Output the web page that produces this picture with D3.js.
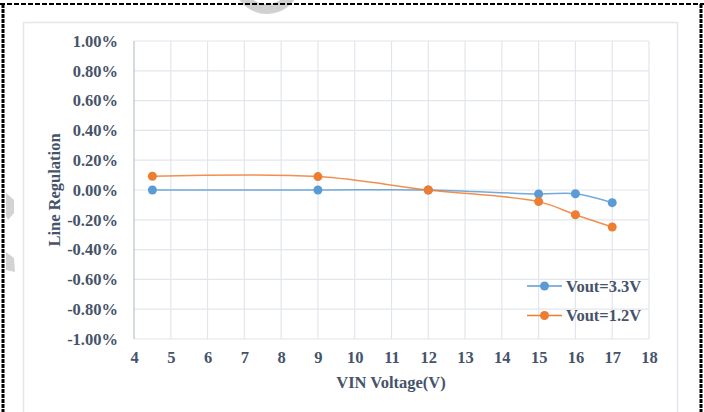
<!DOCTYPE html>
<html>
<head>
<meta charset="utf-8">
<script src="https://cdn.jsdelivr.net/npm/d3@7"></script>
<style>
  body { margin: 0; background: #fff; }
  svg { display: block; }
  text { font-family: "Liberation Serif", "Times New Roman", serif; font-weight: bold; fill: #46536a; }
</style>
</head>
<body>
<svg id="chart" width="704" height="412"></svg>
<script>
// values (percent)
var vin = [4.5, 9, 12, 15, 16, 17];
var vout33 = [0.0, 0.0, 0.0, -0.027, -0.025, -0.085];
var vout12 = [0.092, 0.09, 0.0, -0.078, -0.166, -0.248];
var xTicks = [4, 5, 6, 7, 8, 9, 10, 11, 12, 13, 14, 15, 16, 17, 18];
var yTicks = [-1.0, -0.8, -0.6, -0.4, -0.2, 0.0, 0.2, 0.4, 0.6, 0.8, 1.0];
var seriesNames = ["Vout=3.3V", "Vout=1.2V"];
var seriesColors = ["#5b9bd5", "#ed7d31"];

var svg = d3.select("#chart");

// page decoration: watermark bits and dashed frame
svg.append("path")
  .attr("d", d3.arc()({innerRadius: 24, outerRadius: 34, startAngle: Math.PI * 0.6, endAngle: Math.PI * 1.4}))
  .attr("transform", "translate(267,-20)")
  .attr("fill", "#d0d0d0");
svg.append("path")
  .attr("d", "M6,193 L14,200 L14,213 L8,220 L6,216 Z M6,252 L14,258 L15,272 L6,270 Z")
  .attr("fill", "#d3d3d3");

svg.append("line").attr("x1", 0).attr("x2", 704).attr("y1", 4).attr("y2", 4)
  .attr("stroke", "#000").attr("stroke-width", 2).attr("stroke-dasharray", "5,2");
svg.append("line").attr("x1", 3).attr("x2", 3).attr("y1", 4).attr("y2", 412)
  .attr("stroke", "#000").attr("stroke-width", 3).attr("stroke-dasharray", "4,1");
svg.append("line").attr("x1", 701).attr("x2", 701).attr("y1", 4).attr("y2", 412)
  .attr("stroke", "#000").attr("stroke-width", 3).attr("stroke-dasharray", "4,1");

// chart area box
svg.append("rect").attr("x", 23.5).attr("y", 22.5).attr("width", 654).attr("height", 400)
  .attr("fill", "#fff").attr("stroke", "#e3e6ea").attr("stroke-width", 1.5);

var plotL = 134, plotR = 649, plotT = 41, plotB = 339;

var x = d3.scaleLinear().domain([4, 18]).range([plotL, plotR]);
var y = d3.scaleLinear().domain([-1, 1]).range([plotB, plotT]);

// grid
var grid = svg.append("g");
grid.selectAll(".vg").data(xTicks.slice(1)).enter().append("line")
  .attr("x1", function(d) { return x(d); }).attr("x2", function(d) { return x(d); })
  .attr("y1", plotT).attr("y2", plotB)
  .attr("stroke", "#e2e6ec").attr("stroke-width", 1.2);
grid.selectAll(".hg").data(yTicks).enter().append("line")
  .attr("x1", plotL).attr("x2", plotR)
  .attr("y1", function(d) { return y(d); }).attr("y2", function(d) { return y(d); })
  .attr("stroke", "#e2e6ec").attr("stroke-width", 1.2);

// axis line
svg.append("line").attr("x1", plotL).attr("x2", plotL).attr("y1", plotT).attr("y2", plotB)
  .attr("stroke", "#b8c3d0").attr("stroke-width", 1.2);

// tick labels
var xAxis = d3.axisBottom(x).tickValues(xTicks).tickSize(0).tickPadding(12).tickFormat(d3.format("d"));
var gx = svg.append("g").attr("transform", "translate(0," + plotB + ")").call(xAxis);
gx.select(".domain").remove();
gx.selectAll("text").style("font-size", "16.5px").style("font-family", null).attr("fill", null);

// plain hyphen for negatives, like the original
var pct = d3.formatLocale({decimal: ".", thousands: ",", grouping: [3], currency: ["", ""], minus: "-"}).format(".2f");
var yAxis = d3.axisLeft(y).tickValues(yTicks).tickSize(0).tickPadding(16)
  .tickFormat(function(d) { return pct(d) + "%"; });
var gy = svg.append("g").attr("transform", "translate(" + plotL + ",0)").call(yAxis);
gy.select(".domain").remove();
gy.selectAll("text").style("font-size", "16.5px").style("font-family", null).attr("fill", null);

// axis titles
svg.append("text").attr("x", 391).attr("y", 388).attr("text-anchor", "middle")
  .style("font-size", "16.5px").text("VIN Voltage(V)");
svg.append("text").attr("transform", "translate(60,190) rotate(-90)").attr("text-anchor", "middle")
  .style("font-size", "16.5px").text("Line Regulation");

// series
var series = [vout33, vout12];
var line = d3.line()
  .x(function(d, i) { return x(vin[i]); })
  .y(function(d) { return y(d); })
  .curve(d3.curveCatmullRom.alpha(0.5));

series.forEach(function(vals, s) {
  svg.append("path").datum(vals)
    .attr("d", line)
    .attr("fill", "none")
    .attr("stroke", seriesColors[s])
    .attr("stroke-width", 1.5)
    .attr("stroke-opacity", 0.85);
});
series.forEach(function(vals, s) {
  svg.selectAll(".pt" + s).data(vals).enter().append("circle")
    .attr("cx", function(d, i) { return x(vin[i]); })
    .attr("cy", function(d) { return y(d); })
    .attr("r", 4.5)
    .attr("fill", seriesColors[s]);
});

// legend
var legend = svg.append("g");
seriesNames.forEach(function(name, s) {
  var ly = 286 + s * 29.5;
  legend.append("line").attr("x1", 527).attr("x2", 562).attr("y1", ly).attr("y2", ly)
    .attr("stroke", seriesColors[s]).attr("stroke-width", 1.5);
  legend.append("circle").attr("cx", 544.5).attr("cy", ly).attr("r", 4.5).attr("fill", seriesColors[s]);
  legend.append("text").attr("x", 566).attr("y", ly + 5.5).style("font-size", "16.5px").text(name);
});
</script>
</body>
</html>
